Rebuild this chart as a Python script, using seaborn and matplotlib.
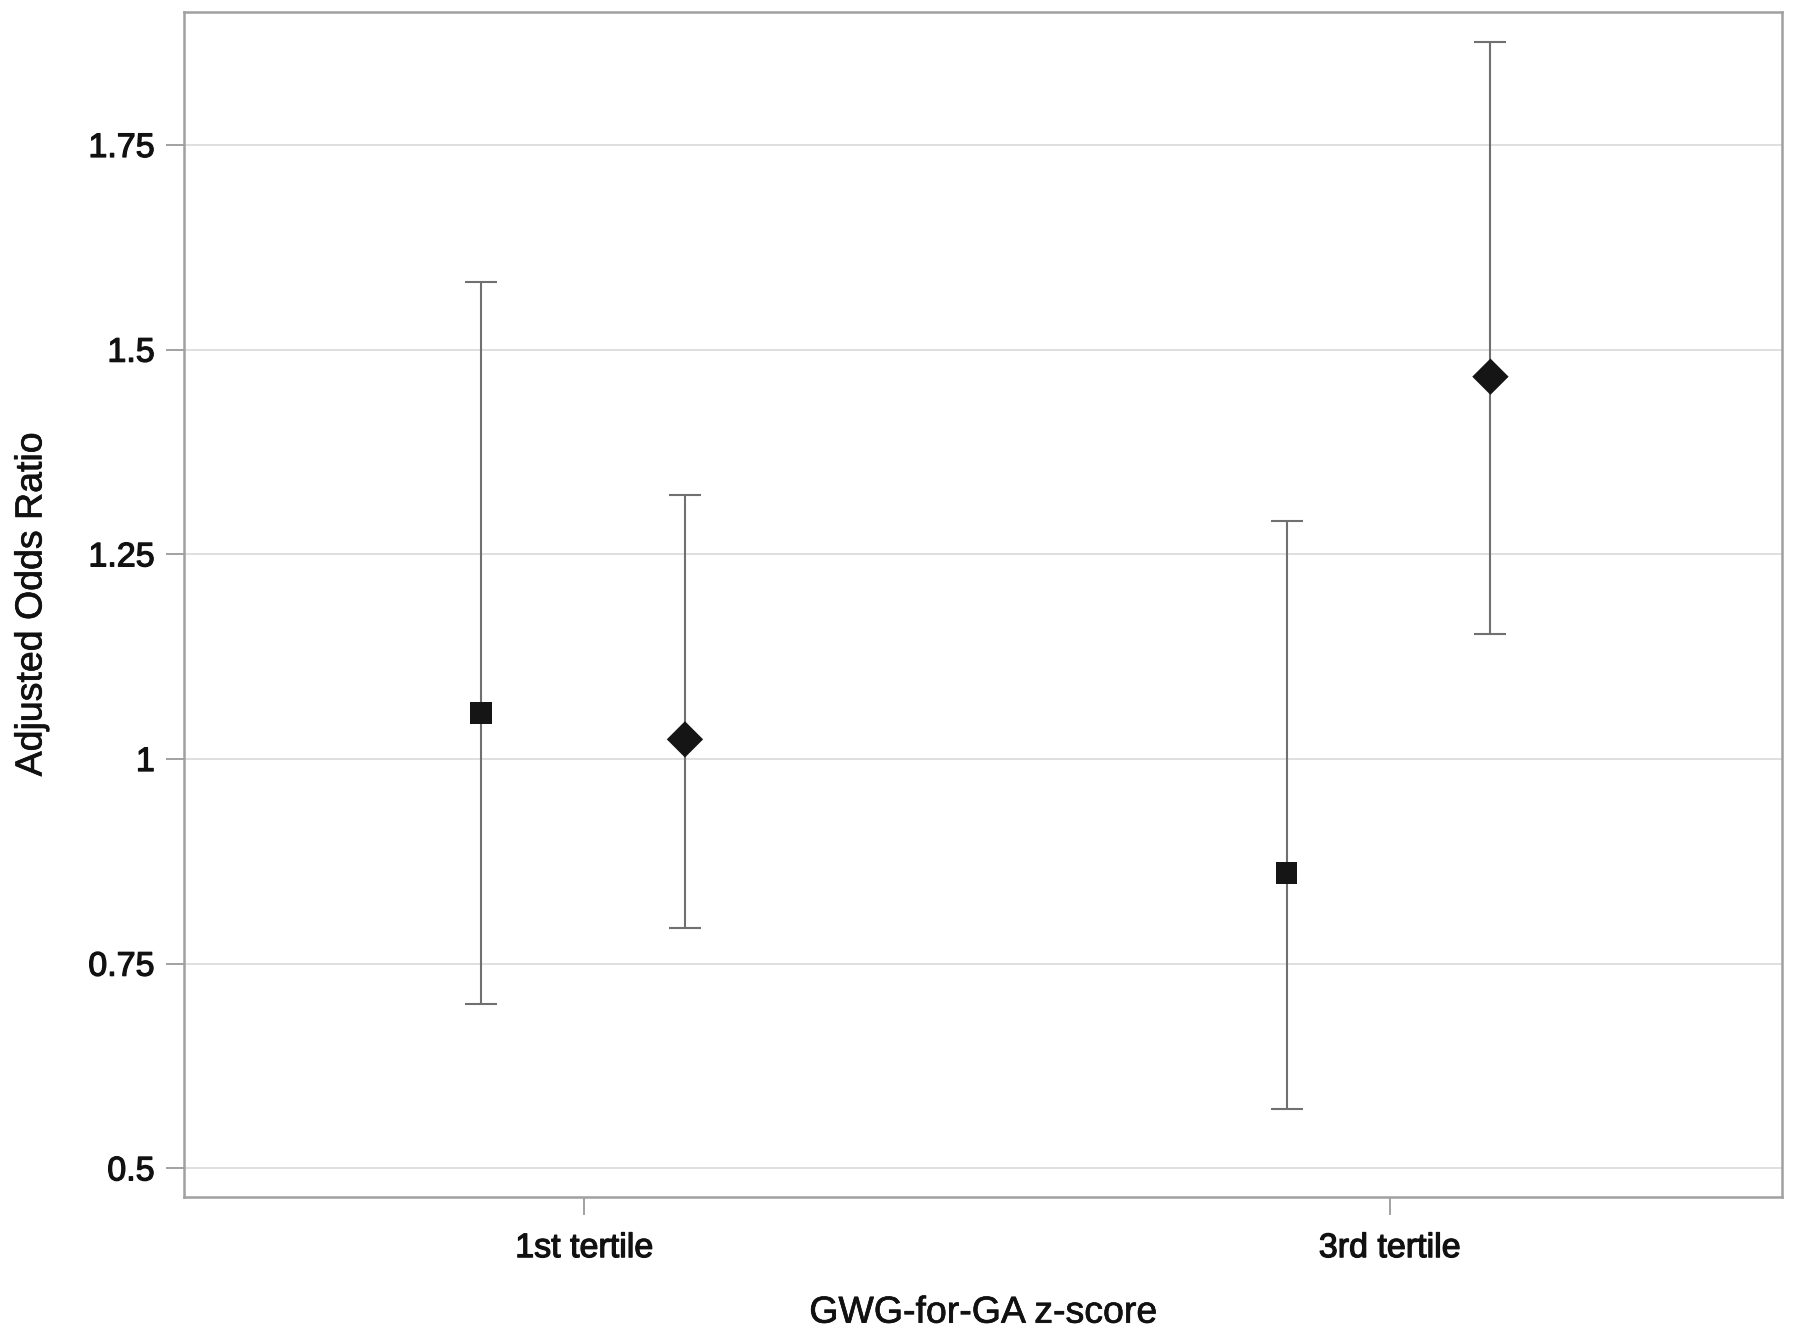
import numpy as np
import pandas as pd
import matplotlib
matplotlib.use("Agg")
import matplotlib.pyplot as plt
import matplotlib.patheffects as pe
import seaborn as sns

# ---- data ----
categories = ["1st tertile", "3rd tertile"]
groups = ["A", "B"]                       # square, diamond
or_A = [1.056, 0.861]
lo_A = [0.701, 0.573]
hi_A = [1.583, 1.291]
or_B = [1.024, 1.467]
lo_B = [0.794, 1.153]
hi_B = [1.322, 1.876]
y_ticks = [0.5, 0.75, 1.0, 1.25, 1.5, 1.75]
y_ticklabels = ["0.5", "0.75", "1", "1.25", "1.5", "1.75"]

sns.set_theme(style="white")
plt.rcParams['font.family'] = ['Liberation Sans', 'DejaVu Sans']

offsets = {"A": -0.128, "B": 0.125}
rows = []
for g, est, lo, hi in [("A", or_A, lo_A, hi_A), ("B", or_B, lo_B, hi_B)]:
    for i, c in enumerate(categories):
        rows.append(dict(cat=c, idx=i, group=g, est=est[i], lo=lo[i], hi=hi[i]))
df = pd.DataFrame(rows)
df["xpos"] = df["idx"] + df["group"].map(offsets)

fig = plt.figure(figsize=(18, 13.43), dpi=100)
ax = fig.add_axes([0.1022, 0.1087, 0.8878, 0.8827])

# grid
for yt in y_ticks:
    ax.axhline(yt, color="#dcdcdc", lw=1.3, zorder=0)

# error bars
ax.errorbar(df["xpos"], df["est"],
            yerr=[df["est"] - df["lo"], df["hi"] - df["est"]],
            fmt="none", ecolor="#707070", elinewidth=1.5, capsize=11.5,
            capthick=1.5, zorder=2)

# markers
sns.scatterplot(data=df, x="xpos", y="est", style="group",
                markers={"A": "s", "B": "D"}, size="group",
                sizes={"A": 15.5**2, "B": 18.5**2},
                color="#151515", edgecolor="none", linewidth=0,
                legend=False, ax=ax, zorder=3)

ax.set_xlim(-0.497, 1.487)
ax.set_ylim(0.465, 1.913)
ax.set_xticks([0, 1])
ax.set_xticklabels(categories)
ax.set_yticks(y_ticks)
ax.set_yticklabels(y_ticklabels)

ax.tick_params(axis="y", length=13, width=1.3, color="#9a9a9a", pad=8,
               labelsize=24.5, labelcolor="#111111", left=True)
ax.tick_params(axis="x", length=13, width=1.3, color="#9a9a9a", pad=13,
               labelsize=24.5, labelcolor="#111111", bottom=True)

thick = [pe.withStroke(linewidth=0.9, foreground="#111111")]
for lab in ax.get_xticklabels() + ax.get_yticklabels():
    lab.set_path_effects(thick)

for s in ax.spines.values():
    s.set_color("#a0a0a0")
    s.set_linewidth(1.8)

ax.set_xlabel("GWG-for-GA z-score", fontsize=27, color="#111111", labelpad=22,
              path_effects=[pe.withStroke(linewidth=0.5, foreground="#111111")])
ax.set_ylabel("Adjusted Odds Ratio", fontsize=27, color="#111111", labelpad=28,
              path_effects=[pe.withStroke(linewidth=0.5, foreground="#111111")])

fig.savefig("out.png", dpi=100, facecolor="white")
